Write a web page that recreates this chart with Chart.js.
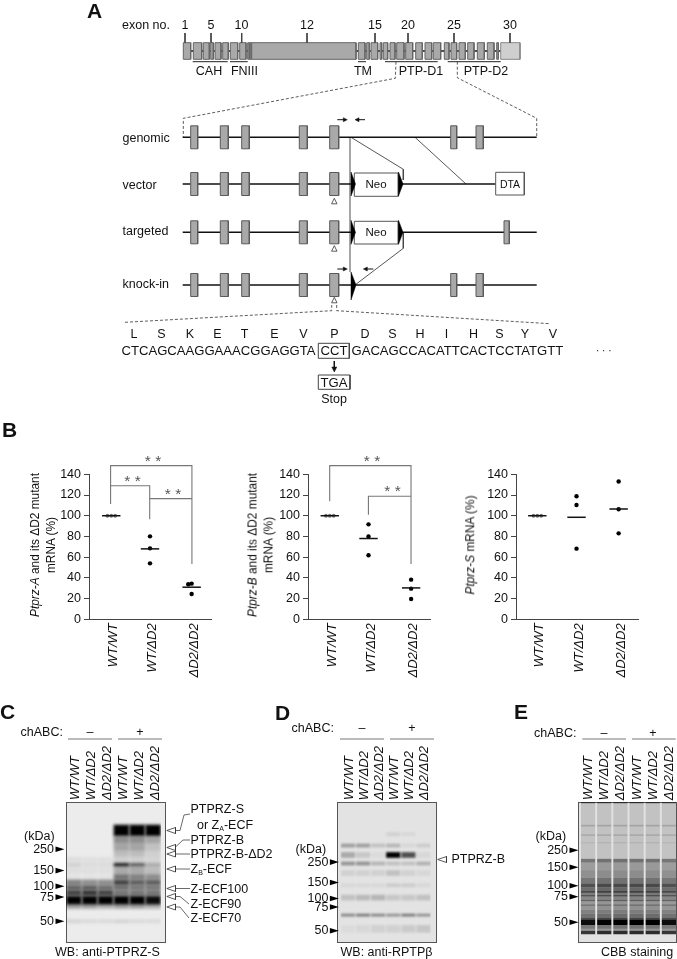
<!DOCTYPE html>
<html>
<head>
<meta charset="utf-8">
<script src="https://cdn.jsdelivr.net/npm/chart.js@4"></script>
<style>
    html, body { margin: 0; padding: 0; background: #fff; }
    #page { position: relative; width: 677px; height: 959px; overflow: hidden; font-family: "Liberation Sans", sans-serif; color: #111; }
    canvas { position: absolute; }
    .t { position: absolute; white-space: nowrap; font-size: 12.5px; line-height: 1; transform: translateY(-50%); z-index: 5; }
    .c { position: absolute; white-space: nowrap; font-size: 12.5px; line-height: 1; transform: translate(-50%, -50%); z-index: 5; }
    .r { position: absolute; white-space: nowrap; font-size: 11.9px; line-height: 15.5px; text-align: center; transform: translate(-50%, -50%) rotate(-90deg); z-index: 5; }
    .p { position: absolute; font-size: 21px; font-weight: bold; line-height: 1; transform: translateY(-50%); z-index: 5; }
    .s { position: absolute; font-size: 15.5px; line-height: 1; color: #555; transform: translate(-50%, -50%); z-index: 5; }
    .lane { position: absolute; bottom: 159px; writing-mode: vertical-rl; white-space: nowrap; font-size: 13px; font-style: italic; line-height: 1; transform: translateX(-50%) rotate(180deg); z-index: 5; }
    .blot { position: absolute; box-sizing: border-box; border: 1px solid #555; top: 802px; height: 141px; }
    sub { font-size: 7px; vertical-align: -2px; line-height: 0; }
</style>
</head>
<body>
<div id="page">
    <div class="p" style="left:87px;top:10px">A</div>
    <div class="p" style="left:2px;top:429px">B</div>
    <div class="p" style="left:0px;top:711px">C</div>
    <div class="p" style="left:275px;top:712px">D</div>
    <div class="p" style="left:514px;top:711px">E</div>

    <!-- panel A text -->
    <div class="t" style="left:122px;top:25px">exon no.</div>
    <div class="c" style="left:185px;top:25px">1</div>
    <div class="c" style="left:211px;top:25px">5</div>
    <div class="c" style="left:241.5px;top:25px">10</div>
    <div class="c" style="left:307px;top:25px">12</div>
    <div class="c" style="left:375px;top:25px">15</div>
    <div class="c" style="left:408px;top:25px">20</div>
    <div class="c" style="left:454px;top:25px">25</div>
    <div class="c" style="left:510px;top:25px">30</div>
    <div class="c" style="left:209px;top:70.5px">CAH</div>
    <div class="c" style="left:244.5px;top:70.5px">FNIII</div>
    <div class="c" style="left:363px;top:70.5px">TM</div>
    <div class="c" style="left:421px;top:70.5px">PTP-D1</div>
    <div class="c" style="left:486px;top:70.5px">PTP-D2</div>
    <div class="t" style="left:122.5px;top:138px">genomic</div>
    <div class="t" style="left:122.5px;top:185px">vector</div>
    <div class="t" style="left:122.5px;top:231px">targeted</div>
    <div class="t" style="left:122.5px;top:283.5px">knock-in</div>
    <div class="c" style="left:376px;top:185px;font-size:11.5px">Neo</div>
    <div class="c" style="left:376px;top:233px;font-size:11.5px">Neo</div>
    <div class="c" style="left:510px;top:184px;font-size:10.5px">DTA</div>

    <div class="c" style="left:134px;top:334px">L</div>
    <div class="c" style="left:161.5px;top:334px">S</div>
    <div class="c" style="left:190px;top:334px">K</div>
    <div class="c" style="left:217.5px;top:334px">E</div>
    <div class="c" style="left:244.5px;top:334px">T</div>
    <div class="c" style="left:274.5px;top:334px">E</div>
    <div class="c" style="left:303.5px;top:334px">V</div>
    <div class="c" style="left:334.5px;top:334px">P</div>
    <div class="c" style="left:365px;top:334px">D</div>
    <div class="c" style="left:392.5px;top:334px">S</div>
    <div class="c" style="left:420px;top:334px">H</div>
    <div class="c" style="left:446.5px;top:334px">I</div>
    <div class="c" style="left:473.5px;top:334px">H</div>
    <div class="c" style="left:499.5px;top:334px">S</div>
    <div class="c" style="left:525px;top:334px">Y</div>
    <div class="c" style="left:553px;top:334px">V</div>
    <div class="t" style="left:121.5px;top:351px;font-size:13.1px">CTCAGCAAGGAAACGGAGGTA</div>
    <div class="c" style="left:334px;top:351px;font-size:13.1px">CCT</div>
    <div class="t" style="left:351.5px;top:351px;font-size:13.1px">GACAGCCACATTCACTCCTATGTT</div>
    <div class="t" style="left:596px;top:351px;font-size:10px">· · ·</div>
    <div class="c" style="left:334px;top:382.5px;font-size:13.1px">TGA</div>
    <div class="c" style="left:334px;top:398.5px">Stop</div>

    <!-- panel B text -->
    <div class="r" style="left:42.5px;top:544.5px"><i>Ptprz-A</i> and its ΔD2 mutant<br>mRNA (%)</div>
    <div class="r" style="left:260.5px;top:544.5px"><i>Ptprz-B</i> and its ΔD2 mutant<br>mRNA (%)</div>
    <div class="r" style="left:471px;top:544.5px"><i>Ptprz-S</i> mRNA (%)</div>
    <div class="s" style="left:153px;top:461px">* *</div>
    <div class="s" style="left:132.5px;top:481px">* *</div>
    <div class="s" style="left:173px;top:494px">* *</div>
    <div class="s" style="left:372px;top:461px">* *</div>
    <div class="s" style="left:392.5px;top:491px">* *</div>

    <!-- panel C text -->
    <div class="t" style="left:20.5px;top:732px">chABC:</div>
    <div class="c" style="left:90px;top:732px">–</div>
    <div class="c" style="left:140px;top:732px">+</div>
    <div class="t" style="left:24px;top:836px">(kDa)</div>
    <div class="t" style="left:190.5px;top:809px">PTPRZ-S</div>
    <div class="t" style="left:197px;top:825px">or Z<sub>A</sub>-ECF</div>
    <div class="t" style="left:190.5px;top:840px">PTPRZ-B</div>
    <div class="t" style="left:190.5px;top:854px">PTPRZ-B-ΔD2</div>
    <div class="t" style="left:190.5px;top:869px">Z<sub>B</sub>-ECF</div>
    <div class="t" style="left:190.5px;top:889px">Z-ECF100</div>
    <div class="t" style="left:190.5px;top:904px">Z-ECF90</div>
    <div class="t" style="left:190.5px;top:918px">Z-ECF70</div>
    <div class="t" style="left:55px;top:952px">WB: anti-PTPRZ-S</div>

    <!-- panel D text -->
    <div class="t" style="left:291.5px;top:728px">chABC:</div>
    <div class="c" style="left:362px;top:728px">–</div>
    <div class="c" style="left:412px;top:728px">+</div>
    <div class="t" style="left:295.5px;top:849px">(kDa)</div>
    <div class="t" style="left:451.5px;top:859px">PTPRZ-B</div>
    <div class="t" style="left:340.5px;top:952px">WB: anti-RPTPβ</div>

    <!-- panel E text -->
    <div class="t" style="left:534px;top:733px">chABC:</div>
    <div class="c" style="left:604px;top:733px">–</div>
    <div class="c" style="left:653px;top:733px">+</div>
    <div class="t" style="left:535.5px;top:836px">(kDa)</div>
    <div class="t" style="left:601px;top:952px">CBB staining</div>

    <div class="blot" style="left:65.5px;width:100px;background:#ececec"></div>
    <div class="blot" style="left:337px;width:100px;background:#e3e3e3"></div>
    <div class="blot" style="left:577.5px;width:99.5px;background:#e2e2e2"></div>

    <canvas id="plotA"></canvas>
    <canvas id="plotB"></canvas>
    <canvas id="plotS"></canvas>
    <canvas id="blotC"></canvas>
    <canvas id="blotD"></canvas>
    <canvas id="blotE"></canvas>
    <canvas id="schematic" width="677" height="959" style="left:0;top:0;z-index:3"></canvas>
</div>

<script>
// panel B values
const genotypes = ['WT/WT', 'WT/ΔD2', 'ΔD2/ΔD2'];
const yTicks = [0, 20, 40, 60, 80, 100, 120, 140];

const ptprzAValues = [[100, 100, 100], [80.1, 68.5, 54], [33.8, 34.4, 24.5]];
const ptprzAMeans = [100, 68, 31];
const ptprzAOffsets = [[-4, 0, 4], [0, 0, 0], [-3.5, 0, 0]];
const ptprzACentres = [23, 63, 106];

const ptprzBValues = [[100, 100, 100], [91.7, 80, 61.8], [38.3, 29.6, 19.6]];
const ptprzBMeans = [100, 78, 30.3];
const ptprzBOffsets = [[-4, 0, 4], [0, 0, 0], [0, 0, 0]];
const ptprzBCentres = [22.5, 62.5, 106.5];

const ptprzSValues = [[100, 100, 100], [118.8, 110.4, 68.2], [133, 106.2, 83]];
const ptprzSMeans = [100, 98.5, 106.5];
const ptprzSOffsets = [[-4, 0, 4], [0, 0, 0], [0, 0, 0]];
const ptprzSCentres = [22, 62.5, 106];

// significance brackets, [x, y] on each plot's own scales
const ptprzABrackets = [
    [[22.3, 111.4], [22.3, 148.4], [106.3, 148.4], [106.3, 53.4]],
    [[22.3, 129], [62.7, 129], [62.7, 96.5]],
    [[62.7, 116.5], [106.3, 116.5]]
];
const ptprzBBrackets = [
    [[22.4, 114], [22.4, 148.4], [106.4, 148.4], [106.4, 53.4]],
    [[62.4, 101], [62.4, 118.8], [106.4, 118.8]]
];

// blots: band top and height are in gel migration units, one darkness per lane
const laneNames = ['WT/WT', 'WT/ΔD2', 'ΔD2/ΔD2', 'WT/WT', 'WT/ΔD2', 'ΔD2/ΔD2'];
const kDaLabels = ['250', '150', '100', '75', '50'];

const cMarkerPos = [50, 72.5, 89, 100.5, 126];
const cBandTop = [24, 36, 44, 52, 58, 64.5, 68, 76, 82, 88, 93, 99, 108, 124];
const cBandHeight = [12, 8, 8, 6, 6.5, 3.5, 8, 6, 6, 5, 6, 9.5, 5, 4];
const cBandDark = [
    [0, 0, 0, 1, 1, 1],
    [0, 0, 0, 0.4, 0.4, 0.3],
    [0, 0, 0, 0.3, 0.3, 0.18],
    [0, 0, 0, 0.2, 0.2, 0.12],
    [0.06, 0.05, 0.05, 0.12, 0.12, 0.1],
    [0.12, 0.08, 0.08, 0.95, 0.65, 0.3],
    [0.06, 0.05, 0.05, 0.28, 0.28, 0.2],
    [0.03, 0.03, 0.03, 0.5, 0.45, 0.4],
    [0.45, 0.4, 0.4, 0.72, 0.6, 0.6],
    [0.6, 0.62, 0.55, 0.55, 0.5, 0.5],
    [0.72, 0.78, 0.72, 0.5, 0.5, 0.5],
    [1, 1, 1, 1, 1, 0.95],
    [0.3, 0.3, 0.25, 0.3, 0.3, 0.25],
    [0.1, 0.08, 0.08, 0.1, 0.08, 0.08]
];

const dMarkerPos = [63.5, 85, 102, 111, 136];
const dBandTop = [32, 44, 53, 63, 72, 86, 98, 118, 130];
const dBandHeight = [4, 4, 6, 4, 6, 4, 6, 3, 8];
const dBandDark = [
    [0, 0, 0, 0.08, 0.05, 0],
    [0.3, 0.3, 0.15, 0.2, 0.05, 0.1],
    [0.25, 0.12, 0.03, 1, 0.65, 0.05],
    [0.35, 0.35, 0.2, 0.15, 0.15, 0.22],
    [0.08, 0.08, 0.08, 0.15, 0.08, 0.05],
    [0.05, 0.05, 0.05, 0.1, 0.1, 0.05],
    [0.15, 0.18, 0.2, 0.12, 0.12, 0.15],
    [0.4, 0.45, 0.4, 0.35, 0.45, 0.35],
    [0.03, 0.05, 0.08, 0.08, 0.1, 0.12]
];

const eMarkerPos = [51, 69, 88.5, 100, 127];
const eBandTop = [0, 1.5, 24, 26, 34, 36, 42, 44, 60, 64, 72, 80, 86, 90, 94, 96, 98, 100, 103, 105, 108, 110, 114, 118, 122, 124, 130, 134, 136];
const eBandHeight = [1.5, 22.5, 2, 8, 2, 6, 2, 16, 4, 8, 8, 6, 4, 4, 2, 2, 2, 3, 2, 3, 2, 4, 4, 4, 2, 6, 4, 2, 4];
const eBandLevel = [0.5, 0.14, 0.28, 0.14, 0.25, 0.14, 0.2, 0.14, 0.5, 0.32, 0.38, 0.5, 0.68, 0.55, 0.72, 0.48, 0.66, 0.42, 0.58, 0.34, 0.5, 0.36, 0.45, 0.52, 0.7, 1, 0.5, 0.35, 0.8];
const eLaneFactor = [0.95, 1, 1, 1, 1, 0.95];

// schematic parts, on an axis that runs across the whole page
const geneExons = [[183.3, 190.7], [193.3, 201.7], [203.3, 209.3], [210.7, 213.3], [215, 221], [222.7, 228.3], [230.3, 237.7], [239.7, 246], [247.7, 249.3], [250, 251.3], [251.7, 356], [358.3, 365], [366.7, 369.3], [371, 377.7], [380, 381.7], [383.3, 387.7], [390, 395], [396.7, 404], [405.7, 412.7], [415.7, 422.3], [425, 431.7], [433.3, 440.7], [444.3, 449], [451, 456.7], [459, 465.3], [467.7, 474], [477.3, 484.3], [487.3, 494], [496.7, 498.3]];
const geneTail = [500.7, 520];
const geneTicks = [185, 211, 241.7, 307, 375, 408, 454, 510];
const geneUnderlines = [[192.7, 227.7], [230, 247.7], [358, 366], [385, 437.7], [447.7, 500.7]];
const trackRows = [137.3, 184, 232.3, 285];
const sharedExons = [[190.7, 197.7], [220.3, 228.3], [241.7, 249.3], [299.3, 307.3], [329.7, 338.7]];
const laterExons = [[450.7, 456.7], [476, 483.3]];
const chabcLines = [[68, 112], [118, 162], [340, 384], [390, 434], [582.3, 626], [632, 675.7]];
const cCalloutRows = [830.5, 847.5, 854, 869, 888.5, 896.5, 907];
const cCalloutLeaders = [
    [[175, 830.5], [180, 830.5], [184, 815], [190, 814]],
    [[175, 847.5], [183, 840], [190, 840]],
    [[175, 854], [190, 854]],
    [[175, 869], [190, 869]],
    [[175, 888.5], [190, 888.5]],
    [[175, 896.5], [180, 896.5], [189, 904]],
    [[175, 907], [180, 907], [189, 918]]
];

const fontFamily = '"Liberation Sans", sans-serif';
const greyLine = '#777';

function lineSet(points, color, width, dash) {
    return {
        data: points.map(p => ({x: p[0], y: p[1]})),
        borderColor: color, borderWidth: width, borderDash: dash || [],
        pointRadius: 0, fill: false, tension: 0, clip: false
    };
}

function shapeSet(points, fillColor, strokeColor, width) {
    return {
        data: points.concat([points[0]]).map(p => ({x: p[0], y: p[1]})),
        borderColor: strokeColor, borderWidth: width, backgroundColor: fillColor,
        pointRadius: 0, fill: 'shape', tension: 0, clip: false
    };
}

function boxSet(x0, x1, y0, y1, fillColor, strokeColor) {
    return shapeSet([[x0, y0], [x1, y0], [x1, y1], [x0, y1]], fillColor, strokeColor, 1);
}

function buildSchematic() {
    // pushed back to front, reversed at the end because dataset 0 draws on top
    const sets = [];
    const exonFill = '#a9a9a9', exonEdge = '#5a5a5a';

    // gene bar
    sets.push(lineSet([[183.3, 51], [520, 51]], '#111', 1.4));
    geneExons.forEach(e => sets.push(boxSet(e[0], e[1], 42.7, 59.3, exonFill, '#666')));
    sets.push(boxSet(geneTail[0], geneTail[1], 42.7, 59.3, '#cfcfcf', '#888'));
    geneTicks.forEach(x => sets.push(lineSet([[x, 33], [x, 42.7]], '#444', 1)));
    geneUnderlines.forEach(u => sets.push(lineSet([[u[0], 61.7], [u[1], 61.7]], '#222', 1)));

    // zoom lines
    sets.push(lineSet([[396, 61.7], [395.3, 78.3], [183.3, 118.3], [183.3, 136.7]], '#333', 0.8, [3, 2]));
    sets.push(lineSet([[457.3, 61.7], [457.3, 77.7], [536.7, 118.3], [536.7, 136.7]], '#333', 0.8, [3, 2]));
    sets.push(lineSet([[125, 322.3], [331.7, 310.7], [331.7, 305]], '#333', 0.8, [3, 2]));
    sets.push(lineSet([[336.7, 305], [336.7, 310.7], [550, 323.7]], '#333', 0.8, [3, 2]));

    // homology lines between tracks
    sets.push(lineSet([[350, 137.3], [350, 272]], greyLine, 1.3));
    sets.push(lineSet([[351, 137.3], [403.3, 169.3], [403.3, 180]], '#444', 0.9));
    sets.push(lineSet([[415, 137.3], [466, 184]], '#444', 0.9));
    sets.push(lineSet([[403.3, 232.3], [403.3, 248.3], [355, 285]], '#444', 0.9));

    // tracks
    sets.push(lineSet([[182.7, trackRows[0]], [536.7, trackRows[0]]], '#111', 1.6));
    sets.push(lineSet([[182.7, trackRows[1]], [495.7, trackRows[1]]], '#111', 1.6));
    sets.push(lineSet([[182.7, trackRows[2]], [536.7, trackRows[2]]], '#111', 1.6));
    sets.push(lineSet([[182.7, trackRows[3]], [536.7, trackRows[3]]], '#111', 1.6));
    trackRows.forEach(y => sharedExons.forEach(e => sets.push(boxSet(e[0], e[1], y - 11.5, y + 11.5, exonFill, exonEdge))));
    [trackRows[0], trackRows[3]].forEach(y => laterExons.forEach(e => sets.push(boxSet(e[0], e[1], y - 11.5, y + 11.5, exonFill, exonEdge))));
    sets.push(boxSet(504, 509.3, trackRows[2] - 11.5, trackRows[2] + 11.5, exonFill, exonEdge));

    // cassettes
    sets.push(boxSet(354.3, 398.3, 173, 196.3, '#fff', '#555'));
    sets.push(boxSet(354.3, 398.3, 221.3, 244, '#fff', '#555'));
    sets.push(boxSet(495.7, 524.3, 172.3, 195, '#fff', '#555'));

    // loxP wedges
    [[351, 184], [398.5, 184], [351, 232.3], [398.5, 232.3]].forEach(w =>
        sets.push(shapeSet([[w[0], w[1] - 12], [w[0] + 4.5, w[1]], [w[0], w[1] + 12]], '#000', '#000', 0.5)));
    sets.push(shapeSet([[351, 272], [356, 285], [351, 300]], '#000', '#000', 0.5));

    // primers
    [[337.3, 347.3, 119.7], [337.3, 347.3, 269]].forEach(a => {
        sets.push(lineSet([[a[0], a[2]], [a[1] - 3, a[2]]], '#111', 1));
        sets.push(shapeSet([[a[1] - 4, a[2] - 2], [a[1], a[2]], [a[1] - 4, a[2] + 2]], '#111', '#111', 0.5));
    });
    [[355, 365, 119.7], [363.3, 373.3, 269]].forEach(a => {
        sets.push(lineSet([[a[0] + 3, a[2]], [a[1], a[2]]], '#111', 1));
        sets.push(shapeSet([[a[0] + 4, a[2] - 2], [a[0], a[2]], [a[0] + 4, a[2] + 2]], '#111', '#111', 0.5));
    });

    // point mutation markers
    [198.3, 245.7, 297.3].forEach(y =>
        sets.push(shapeSet([[334.3, y], [337, y + 5.5], [331.6, y + 5.5]], '#fff', '#333', 0.8)));

    // codon boxes
    sets.push(boxSet(318.3, 349.3, 343.3, 358.3, 'rgba(0,0,0,0)', '#444'));
    sets.push(boxSet(318.3, 350, 375, 389.3, 'rgba(0,0,0,0)', '#444'));
    sets.push(lineSet([[334.3, 361], [334.3, 368]], '#111', 1));
    sets.push(shapeSet([[331.8, 367], [336.8, 367], [334.3, 372]], '#111', '#111', 0.5));

    // chABC rules
    chabcLines.forEach(u => sets.push(lineSet([[u[0], 739], [u[1], 739]], '#777', 1)));

    // blot callouts
    cCalloutRows.forEach(y => sets.push(shapeSet([[166.8, y], [175.5, y - 3], [175.5, y + 3]], '#fff', '#333', 0.8)));
    cCalloutLeaders.forEach(l => sets.push(lineSet(l, '#444', 0.8)));
    sets.push(shapeSet([[437.7, 859.5], [446.5, 856.5], [446.5, 862.5]], '#fff', '#333', 0.8));

    return sets.reverse();
}

new Chart(document.getElementById('schematic'), {
    type: 'line',
    data: {datasets: buildSchematic()},
    options: {
        responsive: false, animation: false, devicePixelRatio: 1,
        plugins: {legend: {display: false}, tooltip: {enabled: false}},
        scales: {
            x: {type: 'linear', display: false, min: 0, max: 677},
            y: {type: 'linear', display: false, min: 0, max: 959, reverse: true}
        }
    }
});

function scatterPlot(id, left, values, means, offsets, centres, brackets) {
    const canvas = document.getElementById(id);
    canvas.style.left = left + 'px';
    canvas.style.top = '450px';
    canvas.width = 45 + 126;
    canvas.height = 240;

    const sets = [];
    // means on top of the dots
    means.forEach((m, i) => sets.push(lineSet([[centres[i] - 9.5, m], [centres[i] + 9.5, m]], '#111', 1.5)));
    values.forEach((row, i) => {
        sets.push({
            data: row.map((v, j) => ({x: centres[i] + offsets[i][j], y: v})),
            showLine: false,
            pointRadius: i === 0 ? 1.9 : 2.2,
            backgroundColor: i === 0 ? '#777' : '#000',
            borderWidth: 0, clip: false
        });
    });
    brackets.forEach(b => sets.push(lineSet(b, greyLine, 1.1)));

    new Chart(canvas, {
        type: 'line',
        data: {datasets: sets},
        options: {
            responsive: false, animation: false, devicePixelRatio: 1,
            layout: {padding: {top: 24.3, right: 0, left: 0, bottom: 0}},
            plugins: {legend: {display: false}, tooltip: {enabled: false}},
            scales: {
                x: {
                    type: 'linear', min: 0, max: 126,
                    afterBuildTicks: s => { s.ticks = centres.map(v => ({value: v})); },
                    afterFit: s => { s.height = 70.7; },
                    grid: {display: false},
                    border: {color: '#444', width: 1},
                    ticks: {
                        autoSkip: false, minRotation: 90, maxRotation: 90, padding: -4, labelOffset: 2.5,
                        color: '#111',
                        font: {family: fontFamily, size: 13, style: 'italic'},
                        callback: (v, i) => genotypes[i]
                    }
                },
                y: {
                    type: 'linear', min: 0, max: 140,
                    afterBuildTicks: s => { s.ticks = yTicks.map(v => ({value: v})); },
                    afterFit: s => { s.width = 45; },
                    grid: {drawOnChartArea: false, tickLength: 5, tickColor: '#444'},
                    border: {color: '#444', width: 1},
                    ticks: {color: '#111', padding: 3, font: {family: fontFamily, size: 12.5}}
                }
            }
        }
    });
}

scatterPlot('plotA', 44, ptprzAValues, ptprzAMeans, ptprzAOffsets, ptprzACentres, ptprzABrackets);
scatterPlot('plotB', 263.3, ptprzBValues, ptprzBMeans, ptprzBOffsets, ptprzBCentres, ptprzBBrackets);
scatterPlot('plotS', 470.7, ptprzSValues, ptprzSMeans, ptprzSOffsets, ptprzSCentres, []);

// soft band edges and the black kDa arrowheads
const blotPlugin = {
    id: 'blotLook',
    beforeDatasetsDraw(chart, args, opts) {
        chart.ctx.save();
        chart.ctx.filter = 'blur(' + opts.blur + 'px)';
    },
    afterDatasetsDraw(chart) {
        chart.ctx.restore();
    },
    afterDraw(chart, args, opts) {
        const ctx = chart.ctx, y = chart.scales.y, right = chart.chartArea.left + opts.arrowShift;
        ctx.save();
        ctx.fillStyle = '#000';
        y.ticks.forEach(t => {
            const py = y.getPixelForValue(t.value);
            ctx.beginPath();
            ctx.moveTo(right, py);
            ctx.lineTo(right - 9, py - 2.8);
            ctx.lineTo(right - 9, py + 2.8);
            ctx.closePath();
            ctx.fill();
        });
        ctx.restore();
    }
};

function blotChart(id, left, areaLeft, areaWidth, markerPos, bandTop, bandHeight, bandDark, blur, catPct, labelShift) {
    const canvas = document.getElementById(id);
    canvas.style.left = left + 'px';
    canvas.style.top = '735px';
    canvas.width = areaLeft - left + areaWidth;
    canvas.height = 207;

    const sets = bandTop.map((top, i) => ({
        data: laneNames.map(() => [top, top + bandHeight[i]]),
        backgroundColor: bandDark[i].map(d => 'rgba(0,0,0,' + d + ')'),
        borderWidth: 0,
        categoryPercentage: catPct,
        barPercentage: 1
    }));

    const chart = new Chart(canvas, {
        type: 'bar',
        data: {labels: laneNames, datasets: sets},
        plugins: [blotPlugin],
        options: {
            responsive: false, animation: false, devicePixelRatio: 1,
            plugins: {
                legend: {display: false}, tooltip: {enabled: false},
                blotLook: {blur: blur, arrowShift: -1.5}
            },
            scales: {
                x: {
                    position: 'top', stacked: true,
                    afterFit: s => { s.height = 67; },
                    grid: {display: false},
                    border: {display: false},
                    ticks: {display: false}
                },
                y: {
                    type: 'linear', min: 0, max: 140, reverse: true,
                    afterBuildTicks: s => { s.ticks = markerPos.map(v => ({value: v})); },
                    afterFit: s => { s.width = areaLeft - left; },
                    grid: {drawOnChartArea: false, tickLength: 12, tickColor: 'rgba(0,0,0,0)'},
                    border: {display: false},
                    ticks: {
                        autoSkip: false, color: '#111', padding: 0,
                        font: {family: fontFamily, size: 12.5},
                        callback: (v, i) => kDaLabels[i]
                    }
                }
            }
        }
    });

    // lane names stand on the blot's top edge, centred on the scale's lanes
    laneNames.forEach((name, i) => {
        const label = document.createElement('div');
        label.className = 'lane';
        label.textContent = name;
        label.style.left = (left + chart.scales.x.getPixelForTick(i) + labelShift) + 'px';
        document.getElementById('page').appendChild(label);
    });
}

blotChart('blotC', 20, 66, 95, cMarkerPos, cBandTop, cBandHeight, cBandDark, 1.4, 0.98, 0.5);
blotChart('blotD', 292, 340.4, 91, dMarkerPos, dBandTop, dBandHeight, dBandDark, 0.9, 0.94, 0);
const eBandDark = eBandLevel.map(l => eLaneFactor.map(f => l * f));
blotChart('blotE', 532, 580, 97, eMarkerPos, eBandTop, eBandHeight, eBandDark, 0.7, 0.88, -1);
</script>
</body>
</html>
